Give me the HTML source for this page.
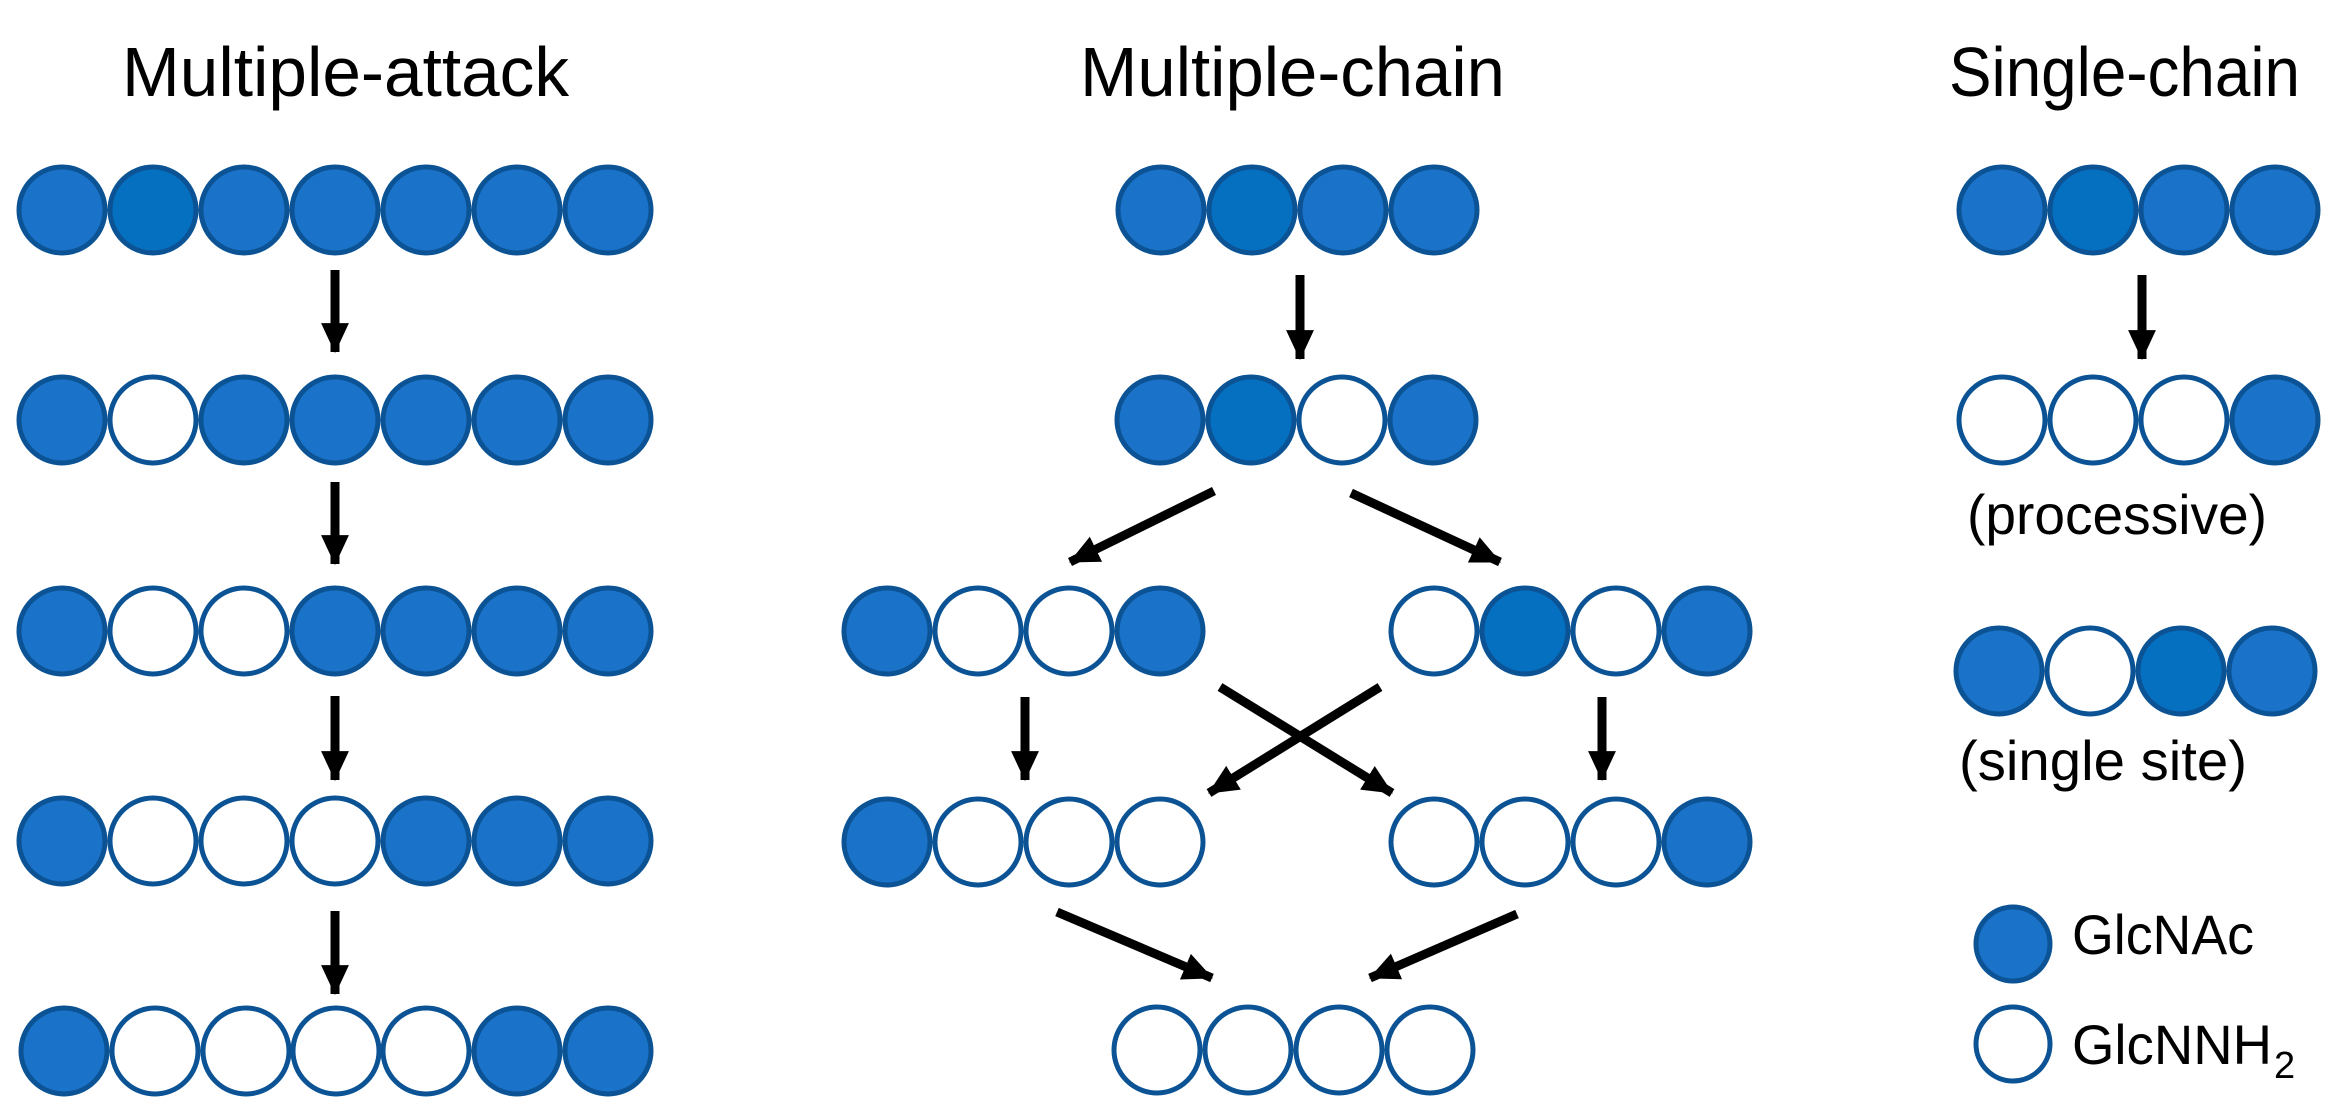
<!DOCTYPE html>
<html><head><meta charset="utf-8"><style>html,body{margin:0;padding:0;background:#fff}svg{display:block}</style></head>
<body>
<svg width="2332" height="1117" viewBox="0 0 2332 1117" xmlns="http://www.w3.org/2000/svg">
<defs>
<marker id="ah" markerUnits="userSpaceOnUse" markerWidth="30" markerHeight="30" viewBox="0 0 28 26" refX="27" refY="13" orient="auto">
<path d="M0,0 L28,13 L0,26 Z" fill="#000"/>
</marker>
</defs>
<g font-family="'Liberation Sans', sans-serif" fill="#000">
<text x="122" y="96" font-size="70" textLength="447" lengthAdjust="spacingAndGlyphs">Multiple-attack</text>
<text x="1080" y="96" font-size="70" textLength="425" lengthAdjust="spacingAndGlyphs">Multiple-chain</text>
<text x="1949" y="96" font-size="70" textLength="351" lengthAdjust="spacingAndGlyphs">Single-chain</text>
<text x="1967" y="534" font-size="56" textLength="300" lengthAdjust="spacingAndGlyphs">(processive)</text>
<text x="1959" y="780" font-size="56" textLength="288" lengthAdjust="spacingAndGlyphs">(single site)</text>
<text x="2072" y="954" font-size="56" textLength="182" lengthAdjust="spacingAndGlyphs">GlcNAc</text>
<text x="2072" y="1064" font-size="56" textLength="200" lengthAdjust="spacingAndGlyphs">GlcNNH</text>
<text x="2274" y="1078" font-size="38">2</text>
</g>
<g stroke="#0b5394" stroke-width="5">
<!-- Left column -->
<g>
<circle cx="62" cy="210" r="43" fill="#1a73c8"/><circle cx="153" cy="210" r="43" fill="#0570c0"/><circle cx="244" cy="210" r="43" fill="#1a73c8"/><circle cx="335" cy="210" r="43" fill="#1a73c8"/><circle cx="426" cy="210" r="43" fill="#1a73c8"/><circle cx="517" cy="210" r="43" fill="#1a73c8"/><circle cx="608" cy="210" r="43" fill="#1a73c8"/>
<circle cx="62" cy="420" r="43" fill="#1a73c8"/><circle cx="153" cy="420" r="43" fill="#fff"/><circle cx="244" cy="420" r="43" fill="#1a73c8"/><circle cx="335" cy="420" r="43" fill="#1a73c8"/><circle cx="426" cy="420" r="43" fill="#1a73c8"/><circle cx="517" cy="420" r="43" fill="#1a73c8"/><circle cx="608" cy="420" r="43" fill="#1a73c8"/>
<circle cx="62" cy="631" r="43" fill="#1a73c8"/><circle cx="153" cy="631" r="43" fill="#fff"/><circle cx="244" cy="631" r="43" fill="#fff"/><circle cx="335" cy="631" r="43" fill="#1a73c8"/><circle cx="426" cy="631" r="43" fill="#1a73c8"/><circle cx="517" cy="631" r="43" fill="#1a73c8"/><circle cx="608" cy="631" r="43" fill="#1a73c8"/>
<circle cx="62" cy="841" r="43" fill="#1a73c8"/><circle cx="153" cy="841" r="43" fill="#fff"/><circle cx="244" cy="841" r="43" fill="#fff"/><circle cx="335" cy="841" r="43" fill="#fff"/><circle cx="426" cy="841" r="43" fill="#1a73c8"/><circle cx="517" cy="841" r="43" fill="#1a73c8"/><circle cx="608" cy="841" r="43" fill="#1a73c8"/>
<circle cx="64" cy="1051" r="43" fill="#1a73c8"/><circle cx="155" cy="1051" r="43" fill="#fff"/><circle cx="246" cy="1051" r="43" fill="#fff"/><circle cx="336" cy="1051" r="43" fill="#fff"/><circle cx="426" cy="1051" r="43" fill="#fff"/><circle cx="517" cy="1051" r="43" fill="#1a73c8"/><circle cx="608" cy="1051" r="43" fill="#1a73c8"/>
</g>
<!-- Middle -->
<circle cx="1161" cy="210" r="43" fill="#1a73c8"/><circle cx="1252" cy="210" r="43" fill="#0570c0"/><circle cx="1343" cy="210" r="43" fill="#1a73c8"/><circle cx="1434" cy="210" r="43" fill="#1a73c8"/>
<circle cx="1160" cy="420" r="43" fill="#1a73c8"/><circle cx="1251" cy="420" r="43" fill="#0570c0"/><circle cx="1342" cy="420" r="43" fill="#fff"/><circle cx="1433" cy="420" r="43" fill="#1a73c8"/>
<circle cx="887" cy="631" r="43" fill="#1a73c8"/><circle cx="978" cy="631" r="43" fill="#fff"/><circle cx="1069" cy="631" r="43" fill="#fff"/><circle cx="1160" cy="631" r="43" fill="#1a73c8"/>
<circle cx="1434" cy="631" r="43" fill="#fff"/><circle cx="1525" cy="631" r="43" fill="#0570c0"/><circle cx="1616" cy="631" r="43" fill="#fff"/><circle cx="1707" cy="631" r="43" fill="#1a73c8"/>
<circle cx="887" cy="842" r="43" fill="#1a73c8"/><circle cx="978" cy="842" r="43" fill="#fff"/><circle cx="1069" cy="842" r="43" fill="#fff"/><circle cx="1160" cy="842" r="43" fill="#fff"/>
<circle cx="1434" cy="842" r="43" fill="#fff"/><circle cx="1525" cy="842" r="43" fill="#fff"/><circle cx="1616" cy="842" r="43" fill="#fff"/><circle cx="1707" cy="842" r="43" fill="#1a73c8"/>
<circle cx="1157" cy="1050" r="43" fill="#fff"/><circle cx="1248" cy="1050" r="43" fill="#fff"/><circle cx="1339" cy="1050" r="43" fill="#fff"/><circle cx="1430" cy="1050" r="43" fill="#fff"/>
<!-- Right -->
<circle cx="2002" cy="210" r="43" fill="#1a73c8"/><circle cx="2093" cy="210" r="43" fill="#0570c0"/><circle cx="2184" cy="210" r="43" fill="#1a73c8"/><circle cx="2275" cy="210" r="43" fill="#1a73c8"/>
<circle cx="2002" cy="420" r="43" fill="#fff"/><circle cx="2093" cy="420" r="43" fill="#fff"/><circle cx="2184" cy="420" r="43" fill="#fff"/><circle cx="2275" cy="420" r="43" fill="#1a73c8"/>
<circle cx="1999" cy="671" r="43" fill="#1a73c8"/><circle cx="2090" cy="671" r="43" fill="#fff"/><circle cx="2181" cy="671" r="43" fill="#0570c0"/><circle cx="2272" cy="671" r="43" fill="#1a73c8"/>
<circle cx="2013" cy="944" r="37" fill="#1a73c8"/>
<circle cx="2013" cy="1044" r="37" fill="#fff"/>
</g>
<g stroke="#000" stroke-width="9" marker-end="url(#ah)">
<line x1="335" y1="270" x2="335" y2="352"/>
<line x1="335" y1="482" x2="335" y2="564"/>
<line x1="335" y1="696" x2="335" y2="780"/>
<line x1="335" y1="911" x2="335" y2="994"/>
<line x1="1300" y1="275" x2="1300" y2="359"/>
<line x1="2142" y1="275" x2="2142" y2="359"/>
<line x1="1025" y1="697" x2="1025" y2="780"/>
<line x1="1602" y1="697" x2="1602" y2="780"/>
<line x1="1214" y1="491" x2="1070" y2="562"/>
<line x1="1351" y1="493" x2="1500" y2="562"/>
<line x1="1220" y1="687" x2="1392" y2="793"/>
<line x1="1380" y1="687" x2="1209" y2="793"/>
<line x1="1057" y1="912" x2="1212" y2="978"/>
<line x1="1517" y1="914" x2="1370" y2="978"/>
</g>
</svg>
</body></html>
